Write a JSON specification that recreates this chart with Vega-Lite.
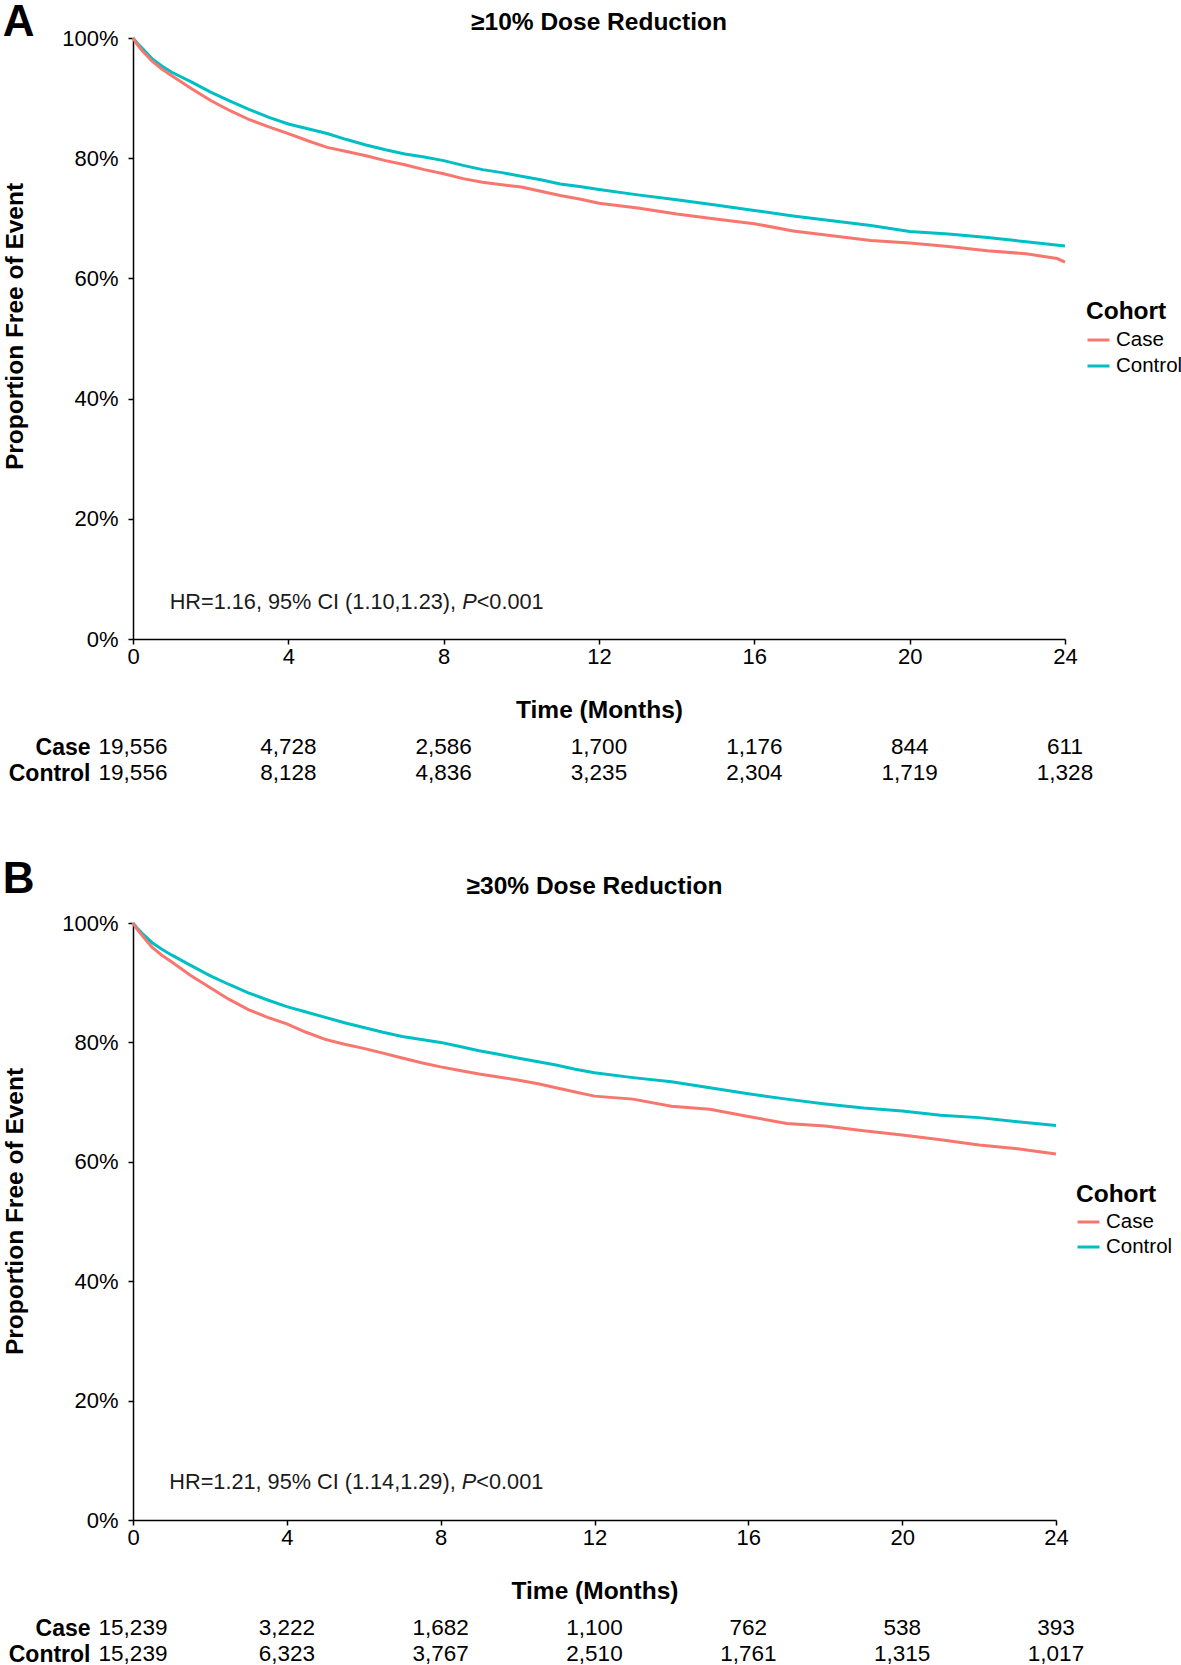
{
  "$schema": "https://vega.github.io/schema/vega-lite/v6.json",
  "padding": {"left": 2, "top": 1, "right": 0, "bottom": 0},
  "background": "white",
  "config": {
    "font": "Liberation Sans",
    "view": {"stroke": null},
    "axis": {"grid": false, "domainColor": "black", "tickColor": "black", "labelColor": "black", "titleColor": "black", "domainWidth": 1.5, "tickWidth": 1.5, "labelFont": "Liberation Sans", "titleFont": "Liberation Sans"},
    "title": {"color": "black", "font": "Liberation Sans"},
    "legend": {"titleFont": "Liberation Sans", "labelFont": "Liberation Sans"}
  },
  "datasets": {
    "kmA": [
      {"cohort": "Control", "t": 0, "s": 1.0}, {"cohort": "Control", "t": 0.1, "s": 0.992}, {"cohort": "Control", "t": 0.25, "s": 0.982}, {"cohort": "Control", "t": 0.5, "s": 0.965}, {"cohort": "Control", "t": 0.75, "s": 0.953}, {"cohort": "Control", "t": 1, "s": 0.943}, {"cohort": "Control", "t": 1.5, "s": 0.927}, {"cohort": "Control", "t": 2, "s": 0.91}, {"cohort": "Control", "t": 2.5, "s": 0.895}, {"cohort": "Control", "t": 3, "s": 0.881}, {"cohort": "Control", "t": 3.5, "s": 0.868}, {"cohort": "Control", "t": 4, "s": 0.857}, {"cohort": "Control", "t": 4.5, "s": 0.849}, {"cohort": "Control", "t": 5, "s": 0.841}, {"cohort": "Control", "t": 5.5, "s": 0.831}, {"cohort": "Control", "t": 6, "s": 0.822}, {"cohort": "Control", "t": 6.5, "s": 0.814}, {"cohort": "Control", "t": 7, "s": 0.807}, {"cohort": "Control", "t": 7.5, "s": 0.802}, {"cohort": "Control", "t": 8, "s": 0.796}, {"cohort": "Control", "t": 8.5, "s": 0.788}, {"cohort": "Control", "t": 9, "s": 0.781}, {"cohort": "Control", "t": 9.5, "s": 0.776}, {"cohort": "Control", "t": 10, "s": 0.77}, {"cohort": "Control", "t": 10.5, "s": 0.764}, {"cohort": "Control", "t": 11, "s": 0.757}, {"cohort": "Control", "t": 11.5, "s": 0.753}, {"cohort": "Control", "t": 12, "s": 0.748}, {"cohort": "Control", "t": 13, "s": 0.739}, {"cohort": "Control", "t": 14, "s": 0.731}, {"cohort": "Control", "t": 15, "s": 0.722}, {"cohort": "Control", "t": 16, "s": 0.713}, {"cohort": "Control", "t": 17, "s": 0.704}, {"cohort": "Control", "t": 18, "s": 0.696}, {"cohort": "Control", "t": 19, "s": 0.688}, {"cohort": "Control", "t": 20, "s": 0.678}, {"cohort": "Control", "t": 21, "s": 0.674}, {"cohort": "Control", "t": 22, "s": 0.668}, {"cohort": "Control", "t": 23, "s": 0.661}, {"cohort": "Control", "t": 24, "s": 0.654},
      {"cohort": "Case", "t": 0, "s": 1.0}, {"cohort": "Case", "t": 0.1, "s": 0.99}, {"cohort": "Case", "t": 0.25, "s": 0.978}, {"cohort": "Case", "t": 0.5, "s": 0.961}, {"cohort": "Case", "t": 0.75, "s": 0.948}, {"cohort": "Case", "t": 1, "s": 0.937}, {"cohort": "Case", "t": 1.5, "s": 0.916}, {"cohort": "Case", "t": 2, "s": 0.896}, {"cohort": "Case", "t": 2.5, "s": 0.879}, {"cohort": "Case", "t": 3, "s": 0.864}, {"cohort": "Case", "t": 3.5, "s": 0.852}, {"cohort": "Case", "t": 4, "s": 0.841}, {"cohort": "Case", "t": 4.5, "s": 0.829}, {"cohort": "Case", "t": 5, "s": 0.818}, {"cohort": "Case", "t": 5.5, "s": 0.811}, {"cohort": "Case", "t": 6, "s": 0.804}, {"cohort": "Case", "t": 6.5, "s": 0.796}, {"cohort": "Case", "t": 7, "s": 0.789}, {"cohort": "Case", "t": 7.5, "s": 0.781}, {"cohort": "Case", "t": 8, "s": 0.774}, {"cohort": "Case", "t": 8.5, "s": 0.766}, {"cohort": "Case", "t": 9, "s": 0.76}, {"cohort": "Case", "t": 9.5, "s": 0.756}, {"cohort": "Case", "t": 10, "s": 0.752}, {"cohort": "Case", "t": 10.5, "s": 0.745}, {"cohort": "Case", "t": 11, "s": 0.738}, {"cohort": "Case", "t": 11.5, "s": 0.732}, {"cohort": "Case", "t": 12, "s": 0.725}, {"cohort": "Case", "t": 13, "s": 0.717}, {"cohort": "Case", "t": 14, "s": 0.707}, {"cohort": "Case", "t": 15, "s": 0.699}, {"cohort": "Case", "t": 16, "s": 0.691}, {"cohort": "Case", "t": 17, "s": 0.679}, {"cohort": "Case", "t": 18, "s": 0.671}, {"cohort": "Case", "t": 19, "s": 0.663}, {"cohort": "Case", "t": 20, "s": 0.659}, {"cohort": "Case", "t": 21, "s": 0.653}, {"cohort": "Case", "t": 22, "s": 0.646}, {"cohort": "Case", "t": 23, "s": 0.641}, {"cohort": "Case", "t": 23.5, "s": 0.636}, {"cohort": "Case", "t": 23.8, "s": 0.633}, {"cohort": "Case", "t": 24, "s": 0.627}
    ],
    "kmB": [
      {"cohort": "Control", "t": 0, "s": 1.0}, {"cohort": "Control", "t": 0.1, "s": 0.992}, {"cohort": "Control", "t": 0.25, "s": 0.982}, {"cohort": "Control", "t": 0.5, "s": 0.967}, {"cohort": "Control", "t": 0.75, "s": 0.956}, {"cohort": "Control", "t": 1, "s": 0.9465}, {"cohort": "Control", "t": 1.5, "s": 0.929}, {"cohort": "Control", "t": 2, "s": 0.912}, {"cohort": "Control", "t": 2.5, "s": 0.897}, {"cohort": "Control", "t": 3, "s": 0.883}, {"cohort": "Control", "t": 3.5, "s": 0.871}, {"cohort": "Control", "t": 4, "s": 0.86}, {"cohort": "Control", "t": 4.5, "s": 0.851}, {"cohort": "Control", "t": 5, "s": 0.842}, {"cohort": "Control", "t": 5.5, "s": 0.833}, {"cohort": "Control", "t": 6, "s": 0.825}, {"cohort": "Control", "t": 6.5, "s": 0.817}, {"cohort": "Control", "t": 7, "s": 0.81}, {"cohort": "Control", "t": 7.5, "s": 0.805}, {"cohort": "Control", "t": 8, "s": 0.8}, {"cohort": "Control", "t": 8.5, "s": 0.793}, {"cohort": "Control", "t": 9, "s": 0.786}, {"cohort": "Control", "t": 9.5, "s": 0.78}, {"cohort": "Control", "t": 10, "s": 0.774}, {"cohort": "Control", "t": 10.5, "s": 0.768}, {"cohort": "Control", "t": 11, "s": 0.762}, {"cohort": "Control", "t": 11.5, "s": 0.755}, {"cohort": "Control", "t": 12, "s": 0.749}, {"cohort": "Control", "t": 13, "s": 0.741}, {"cohort": "Control", "t": 14, "s": 0.734}, {"cohort": "Control", "t": 15, "s": 0.724}, {"cohort": "Control", "t": 16, "s": 0.714}, {"cohort": "Control", "t": 17, "s": 0.705}, {"cohort": "Control", "t": 18, "s": 0.697}, {"cohort": "Control", "t": 19, "s": 0.69}, {"cohort": "Control", "t": 20, "s": 0.685}, {"cohort": "Control", "t": 21, "s": 0.678}, {"cohort": "Control", "t": 22, "s": 0.674}, {"cohort": "Control", "t": 23, "s": 0.667}, {"cohort": "Control", "t": 24, "s": 0.661},
      {"cohort": "Case", "t": 0, "s": 1.0}, {"cohort": "Case", "t": 0.1, "s": 0.99}, {"cohort": "Case", "t": 0.25, "s": 0.978}, {"cohort": "Case", "t": 0.5, "s": 0.959}, {"cohort": "Case", "t": 0.75, "s": 0.946}, {"cohort": "Case", "t": 1, "s": 0.935}, {"cohort": "Case", "t": 1.5, "s": 0.912}, {"cohort": "Case", "t": 2, "s": 0.892}, {"cohort": "Case", "t": 2.5, "s": 0.872}, {"cohort": "Case", "t": 3, "s": 0.855}, {"cohort": "Case", "t": 3.5, "s": 0.842}, {"cohort": "Case", "t": 4, "s": 0.831}, {"cohort": "Case", "t": 4.5, "s": 0.817}, {"cohort": "Case", "t": 5, "s": 0.805}, {"cohort": "Case", "t": 5.5, "s": 0.797}, {"cohort": "Case", "t": 6, "s": 0.79}, {"cohort": "Case", "t": 6.5, "s": 0.782}, {"cohort": "Case", "t": 7, "s": 0.774}, {"cohort": "Case", "t": 7.5, "s": 0.766}, {"cohort": "Case", "t": 8, "s": 0.759}, {"cohort": "Case", "t": 8.5, "s": 0.753}, {"cohort": "Case", "t": 9, "s": 0.747}, {"cohort": "Case", "t": 9.5, "s": 0.742}, {"cohort": "Case", "t": 10, "s": 0.737}, {"cohort": "Case", "t": 10.5, "s": 0.731}, {"cohort": "Case", "t": 11, "s": 0.724}, {"cohort": "Case", "t": 11.5, "s": 0.717}, {"cohort": "Case", "t": 12, "s": 0.71}, {"cohort": "Case", "t": 13, "s": 0.705}, {"cohort": "Case", "t": 14, "s": 0.693}, {"cohort": "Case", "t": 15, "s": 0.688}, {"cohort": "Case", "t": 16, "s": 0.676}, {"cohort": "Case", "t": 17, "s": 0.664}, {"cohort": "Case", "t": 18, "s": 0.66}, {"cohort": "Case", "t": 19, "s": 0.652}, {"cohort": "Case", "t": 20, "s": 0.645}, {"cohort": "Case", "t": 21, "s": 0.637}, {"cohort": "Case", "t": 22, "s": 0.628}, {"cohort": "Case", "t": 23, "s": 0.622}, {"cohort": "Case", "t": 24, "s": 0.613}
    ],
    "riskA": [
      {"cohort": "Case", "t": 0, "n": 19556}, {"cohort": "Case", "t": 4, "n": 4728}, {"cohort": "Case", "t": 8, "n": 2586}, {"cohort": "Case", "t": 12, "n": 1700}, {"cohort": "Case", "t": 16, "n": 1176}, {"cohort": "Case", "t": 20, "n": 844}, {"cohort": "Case", "t": 24, "n": 611},
      {"cohort": "Control", "t": 0, "n": 19556}, {"cohort": "Control", "t": 4, "n": 8128}, {"cohort": "Control", "t": 8, "n": 4836}, {"cohort": "Control", "t": 12, "n": 3235}, {"cohort": "Control", "t": 16, "n": 2304}, {"cohort": "Control", "t": 20, "n": 1719}, {"cohort": "Control", "t": 24, "n": 1328}
    ],
    "riskB": [
      {"cohort": "Case", "t": 0, "n": 15239}, {"cohort": "Case", "t": 4, "n": 3222}, {"cohort": "Case", "t": 8, "n": 1682}, {"cohort": "Case", "t": 12, "n": 1100}, {"cohort": "Case", "t": 16, "n": 762}, {"cohort": "Case", "t": 20, "n": 538}, {"cohort": "Case", "t": 24, "n": 393},
      {"cohort": "Control", "t": 0, "n": 15239}, {"cohort": "Control", "t": 4, "n": 6323}, {"cohort": "Control", "t": 8, "n": 3767}, {"cohort": "Control", "t": 12, "n": 2510}, {"cohort": "Control", "t": 16, "n": 1761}, {"cohort": "Control", "t": 20, "n": 1315}, {"cohort": "Control", "t": 24, "n": 1017}
    ],
    "one": [{}]
  },
  "spacing": 72,
  "resolve": {"scale": {"color": "independent", "x": "independent", "y": "independent"}, "legend": {"color": "independent"}},
  "vconcat": [
    {
      "title": {"text": "A", "anchor": "start", "frame": "bounds", "fontSize": 44, "fontWeight": "bold", "offset": 0, "dy": 35.5},
      "spacing": 12,
      "vconcat": [
        {
          "width": 932,
          "height": 601,
          "title": {"text": "≥10% Dose Reduction", "fontSize": 24.5, "fontWeight": "bold", "anchor": "middle", "offset": -8.4},
          "layer": [
            {
              "data": {"name": "kmA"},
              "mark": {"type": "line", "strokeWidth": 3, "interpolate": "linear"},
              "encoding": {
                "x": {"field": "t", "type": "quantitative", "scale": {"domain": [0, 24], "nice": false, "zero": false},
                  "axis": {"values": [0, 4, 8, 12, 16, 20, 24], "title": "Time (Months)", "titleFontSize": 24.5, "titleFontWeight": "bold", "titlePadding": 31, "labelFontSize": 22, "tickSize": 5, "labelPadding": 2, "labelFlush": false}},
                "y": {"field": "s", "type": "quantitative", "scale": {"domain": [0, 1], "nice": false},
                  "axis": {"values": [0, 0.2, 0.4, 0.6, 0.8, 1], "format": ".0%", "title": "Proportion Free of Event", "titleFontSize": 24.5, "titleFontWeight": "bold", "titlePadding": 34, "titleY": 288, "labelFontSize": 22, "tickSize": 5, "labelPadding": 10}},
                "color": {"field": "cohort", "type": "nominal", "scale": {"domain": ["Case", "Control"], "range": ["#F8766D", "#00BFC4"]},
                  "legend": {"title": "Cohort", "orient": "none", "legendX": 953, "legendY": 262, "titleFontSize": 24.5, "titleFontWeight": "bold", "titleColor": "black", "labelFontSize": 20.5, "labelColor": "black", "symbolType": "stroke", "symbolStrokeWidth": 3, "symbolSize": 484, "labelOffset": 5, "rowPadding": 3, "titlePadding": 3, "padding": 0}}
              }
            },
            {
              "data": {"name": "one"},
              "mark": {"type": "text", "align": "left", "baseline": "middle", "fontSize": 21.7, "color": "#1a1a1a"},
              "encoding": {"x": {"datum": 0.945, "type": "quantitative"}, "y": {"datum": 0.0615, "type": "quantitative"}, "text": {"value": "HR=1.16, 95% CI (1.10,1.23),"}}
            },
            {
              "data": {"name": "one"},
              "mark": {"type": "text", "align": "left", "baseline": "middle", "fontSize": 21.7, "fontStyle": "italic", "color": "#1a1a1a", "dx": 292.5},
              "encoding": {"x": {"datum": 0.945, "type": "quantitative"}, "y": {"datum": 0.0615, "type": "quantitative"}, "text": {"value": "P"}}
            },
            {
              "data": {"name": "one"},
              "mark": {"type": "text", "align": "left", "baseline": "middle", "fontSize": 21.7, "color": "#1a1a1a", "dx": 307},
              "encoding": {"x": {"datum": 0.945, "type": "quantitative"}, "y": {"datum": 0.0615, "type": "quantitative"}, "text": {"value": "<0.001"}}
            }
          ]
        },
        {
          "width": 932,
          "height": 52,
          "data": {"name": "riskA"},
          "mark": {"type": "text", "fontSize": 22.5, "color": "black", "baseline": "middle"},
          "encoding": {
            "x": {"field": "t", "type": "quantitative", "scale": {"domain": [0, 24], "nice": false, "zero": false}, "axis": null},
            "y": {"field": "cohort", "type": "nominal", "scale": {"domain": ["Case", "Control"], "paddingInner": 0, "paddingOuter": 0},
              "axis": {"title": null, "domain": false, "ticks": false, "tickSize": 0, "labelPadding": 43, "labelFontSize": 23, "labelFontWeight": "bold", "labelColor": "black"}},
            "text": {"field": "n", "type": "quantitative", "format": ","}
          }
        }
      ]
    },
    {
      "title": {"text": "B", "anchor": "start", "frame": "bounds", "fontSize": 44, "fontWeight": "bold", "offset": 0, "dy": 28},
      "spacing": 12,
      "vconcat": [
        {
          "width": 923,
          "height": 597,
          "title": {"text": "≥30% Dose Reduction", "fontSize": 24.5, "fontWeight": "bold", "anchor": "middle", "offset": 12.4},
          "layer": [
            {
              "data": {"name": "kmB"},
              "mark": {"type": "line", "strokeWidth": 3, "interpolate": "linear"},
              "encoding": {
                "x": {"field": "t", "type": "quantitative", "scale": {"domain": [0, 24], "nice": false, "zero": false},
                  "axis": {"values": [0, 4, 8, 12, 16, 20, 24], "title": "Time (Months)", "titleFontSize": 24.5, "titleFontWeight": "bold", "titlePadding": 31, "labelFontSize": 22, "tickSize": 5, "labelPadding": 2, "labelFlush": false}},
                "y": {"field": "s", "type": "quantitative", "scale": {"domain": [0, 1], "nice": false},
                  "axis": {"values": [0, 0.2, 0.4, 0.6, 0.8, 1], "format": ".0%", "title": "Proportion Free of Event", "titleFontSize": 24.5, "titleFontWeight": "bold", "titlePadding": 34, "titleY": 288, "labelFontSize": 22, "tickSize": 5, "labelPadding": 10}},
                "color": {"field": "cohort", "type": "nominal", "scale": {"domain": ["Case", "Control"], "range": ["#F8766D", "#00BFC4"]},
                  "legend": {"title": "Cohort", "orient": "none", "legendX": 943, "legendY": 260, "titleFontSize": 24.5, "titleFontWeight": "bold", "titleColor": "black", "labelFontSize": 20.5, "labelColor": "black", "symbolType": "stroke", "symbolStrokeWidth": 3, "symbolSize": 484, "labelOffset": 5, "rowPadding": 2, "titlePadding": 2, "padding": 0}}
              }
            },
            {
              "data": {"name": "one"},
              "mark": {"type": "text", "align": "left", "baseline": "middle", "fontSize": 21.7, "color": "#1a1a1a"},
              "encoding": {"x": {"datum": 0.945, "type": "quantitative"}, "y": {"datum": 0.0635, "type": "quantitative"}, "text": {"value": "HR=1.21, 95% CI (1.14,1.29),"}}
            },
            {
              "data": {"name": "one"},
              "mark": {"type": "text", "align": "left", "baseline": "middle", "fontSize": 21.7, "fontStyle": "italic", "color": "#1a1a1a", "dx": 292.5},
              "encoding": {"x": {"datum": 0.945, "type": "quantitative"}, "y": {"datum": 0.0635, "type": "quantitative"}, "text": {"value": "P"}}
            },
            {
              "data": {"name": "one"},
              "mark": {"type": "text", "align": "left", "baseline": "middle", "fontSize": 21.7, "color": "#1a1a1a", "dx": 307},
              "encoding": {"x": {"datum": 0.945, "type": "quantitative"}, "y": {"datum": 0.0635, "type": "quantitative"}, "text": {"value": "<0.001"}}
            }
          ]
        },
        {
          "width": 923,
          "height": 52,
          "data": {"name": "riskB"},
          "mark": {"type": "text", "fontSize": 22.5, "color": "black", "baseline": "middle"},
          "encoding": {
            "x": {"field": "t", "type": "quantitative", "scale": {"domain": [0, 24], "nice": false, "zero": false}, "axis": null},
            "y": {"field": "cohort", "type": "nominal", "scale": {"domain": ["Case", "Control"], "paddingInner": 0, "paddingOuter": 0},
              "axis": {"title": null, "domain": false, "ticks": false, "tickSize": 0, "labelPadding": 43, "labelFontSize": 23, "labelFontWeight": "bold", "labelColor": "black"}},
            "text": {"field": "n", "type": "quantitative", "format": ","}
          }
        }
      ]
    }
  ]
}
